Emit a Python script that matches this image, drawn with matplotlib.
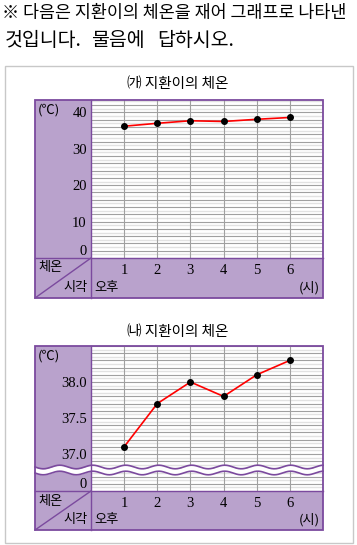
import numpy as np
import matplotlib.pyplot as plt
from matplotlib.patches import Rectangle

plt.rcParams['font.family'] = ['Noto Sans CJK KR', 'DejaVu Sans']

# 시각 (오후, 시)
hours = [1, 2, 3, 4, 5, 6]
hour_labels = ['1', '2', '3', '4', '5', '6']
# (가) 지환이의 체온
temps_a = [36.2, 37.0, 37.7, 37.5, 38.1, 38.6]
# (나) 지환이의 체온
temps_b = [37.1, 37.7, 38.0, 37.8, 38.1, 38.3]
ticks_a = [0, 10, 20, 30, 40]
ticks_b = [37.0, 37.5, 38.0]
tick_labels_b = ['37.0', '37.5', '38.0']

W, H = 357, 545
PURPLE = '#b9a2cc'
EDGE = '#7b4a9e'
DARK = '#a0a0a0'
LIGHT = '#e2e2e2'
SERIF = 'Liberation Serif'


def rect(x0, y0, x1, y1):
    return [x0 / W, 1 - y1 / H, (x1 - x0) / W, (y1 - y0) / H]


def grid_lines(ax, lo, hi, step):
    n = 0
    v = lo
    while v <= hi + 1e-9:
        ax.axhline(v, color=DARK if n % 2 == 0 else LIGHT, lw=0.8 if n % 2 == 0 else 1.0, zorder=0)
        v += step
        n += 1
    for h in hours:
        ax.axvline(h, color=DARK, lw=0.8, zorder=0)


def style_axes(ax):
    ax.set_xlim(0, 7)
    for s in ax.spines.values():
        s.set_visible(False)
    ax.tick_params(length=0, labelsize=10.5, pad=3)
    for lab in ax.get_xticklabels() + ax.get_yticklabels():
        lab.set_family(SERIF)


def lift_zero(ax):
    # the "0" label sits just above the bottom line
    for lab in ax.get_yticklabels():
        if lab.get_text() == '0':
            lab.set_va('bottom')


fig = plt.figure(figsize=(W / 100, H / 100), dpi=100)

deco = fig.add_axes([0, 0, 1, 1])
deco.set_xlim(0, W)
deco.set_ylim(H, 0)
deco.axis('off')
deco.add_patch(Rectangle((4.5, 65.5), 348, 477, fill=False, ec='#c8c8c8', lw=1))

charts = [(100, 258, 298), (346, 491, 530)]
for top, plot_bottom, bottom in charts:
    deco.add_patch(Rectangle((35, top), 56, plot_bottom - top, fc=PURPLE, ec='none'))
    deco.add_patch(Rectangle((35, plot_bottom), 288, bottom - plot_bottom, fc=PURPLE, ec='none'))

fig.text(2 / W, 1 - 13 / H, '※ 다음은 지환이의 체온을 재어 그래프로 나타낸',
         fontsize=12.5, va='center', ha='left')
for word, wx in zip(['것입니다.', '물음에', '답하시오.'], [5, 91, 157]):
    fig.text(wx / W, 1 - 41 / H, word, fontsize=14, va='center', ha='left')

# (가)
ax1 = fig.add_axes(rect(91, 100, 323, 258))
ax1.set_ylim(0, 43.4)
grid_lines(ax1, 0, 43.4, 1)
ax1.plot(hours, temps_a, color='red', lw=1.2, zorder=3)
ax1.plot(hours, temps_a, 'o', color='black', ms=4, zorder=4)
ax1.set_yticks(ticks_a)
ax1.set_yticklabels([str(t) for t in ticks_a])
ax1.set_xticks(hours)
ax1.set_xticklabels(hour_labels)
style_axes(ax1)
lift_zero(ax1)
ax1.tick_params(axis='x', pad=4)

# (나) upper part, above the break
ax2 = fig.add_axes(rect(91, 346, 323, 470))
ax2.set_ylim(38.0 - 88 / 72, 38.5)
grid_lines(ax2, 36.8, 38.5, 0.05)
ax2.plot(hours, temps_b, color='red', lw=1.2, zorder=3)
ax2.plot(hours, temps_b, 'o', color='black', ms=4, zorder=4)
ax2.set_yticks(ticks_b)
ax2.set_yticklabels(tick_labels_b)
ax2.set_xticks([])
style_axes(ax2)

# (나) lower part, below the break
ax3 = fig.add_axes(rect(91, 470, 323, 491))
ax3.set_ylim(0, 21 / 72)
grid_lines(ax3, 0, 0.3, 0.05)
ax3.set_yticks([0])
ax3.set_yticklabels(['0'])
ax3.set_xticks(hours)
ax3.set_xticklabels(hour_labels)
style_axes(ax3)
lift_zero(ax3)
ax3.tick_params(axis='x', pad=4)

over = fig.add_axes([0, 0, 1, 1])
over.set_xlim(0, W)
over.set_ylim(H, 0)
over.axis('off')
over.patch.set_alpha(0)

# wavy break
xw = np.linspace(35, 323, 400)
wave = 1.8 * np.sin((xw - 35) / 33 * 2 * np.pi)
over.fill_between(xw, 467 + wave, 473 + wave, color='white', lw=0)
over.plot(xw, 467 + wave, color=EDGE, lw=1.2)
over.plot(xw, 473 + wave, color=EDGE, lw=1.2)

titles = ['㈎ 지환이의 체온', '㈏ 지환이의 체온']
title_y = [84, 332]
for (top, plot_bottom, bottom), title, ty in zip(charts, titles, title_y):
    over.add_patch(Rectangle((35, top), 288, bottom - top, fill=False, ec=EDGE, lw=1.3))
    over.plot([91, 91], [top, bottom], color=EDGE, lw=1)
    over.plot([35, 323], [plot_bottom, plot_bottom], color=EDGE, lw=1)
    over.plot([35, 91], [bottom, plot_bottom], color=EDGE, lw=1)
    over.text(178, ty, title, fontsize=10.5, ha='center', va='center')
    over.text(38, top + 10, '(℃)', fontsize=9.5, ha='left', va='center')
    over.text(38, plot_bottom + 10, '체온', fontsize=9.5, ha='left', va='center')
    over.text(88, bottom - 10, '시각', fontsize=9.5, ha='right', va='center')
    over.text(94, bottom - 10, '오후', fontsize=9.5, ha='left', va='center')
    over.text(320, bottom - 10, '(시)', fontsize=9.5, ha='right', va='center')

fig.savefig('out.png', dpi=100)
plt.close(fig)
